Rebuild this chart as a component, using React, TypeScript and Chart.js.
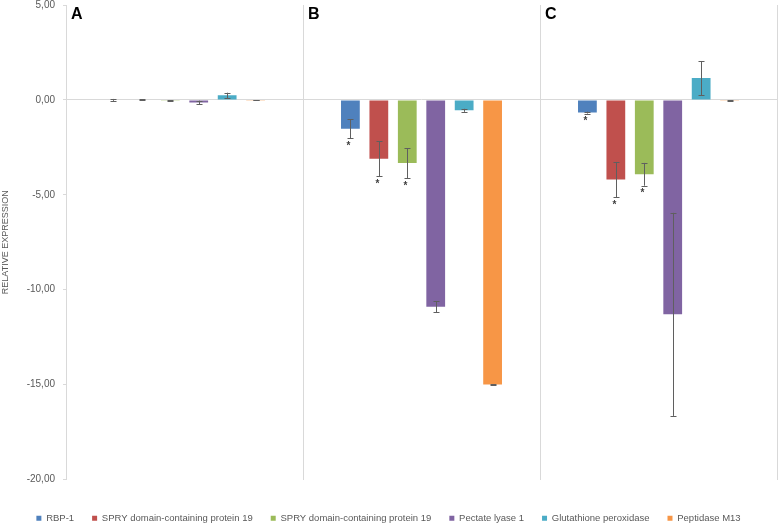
import React, { useEffect, useRef } from 'react';
import { Chart, registerables } from 'chart.js';

Chart.register(...registerables);

// ---- Data ----
const panels = ['A', 'B', 'C'];
const seriesNames = [
  'RBP-1',
  'SPRY domain-containing protein 19',
  'SPRY domain-containing protein 19',
  'Pectate lyase 1',
  'Glutathione peroxidase',
  'Peptidase M13',
];
const seriesColors = ['#4F81BD', '#C0504D', '#9BBB59', '#8064A2', '#4BACC6', '#F79646'];

const rbp1 = [0.0, -1.52, -0.67];
const rbp1Err = [0.05, 0.5, 0.05];
const rbp1Sig = [false, true, true];

const spry19a = [0.02, -3.1, -4.2];
const spry19aErr = [0.02, 0.92, 0.93];
const spry19aSig = [false, true, true];

const spry19b = [-0.04, -3.33, -3.92];
const spry19bErr = [0.02, 0.79, 0.6];
const spry19bSig = [false, true, true];

const pectate = [-0.14, -10.9, -11.3];
const pectateErr = [0.1, 0.3, 5.35];
const pectateSig = [false, false, false];

const glutathione = [0.24, -0.55, 1.15];
const glutathioneErr = [0.14, 0.08, 0.9];
const glutathioneSig = [false, false, false];

const peptidase = [-0.02, -15.0, -0.05];
const peptidaseErr = [0.01, 0.03, 0.02];
const peptidaseSig = [false, false, false];

const yTicks = [5, 0, -5, -10, -15, -20];

const seriesValues = [rbp1, spry19a, spry19b, pectate, glutathione, peptidase];
const seriesErrors = [rbp1Err, spry19aErr, spry19bErr, pectateErr, glutathioneErr, peptidaseErr];
const seriesSig = [rbp1Sig, spry19aSig, spry19bSig, pectateSig, glutathioneSig, peptidaseSig];

const FONT = "'Liberation Sans', Arial, sans-serif";

const errorBarPlugin = {
  id: 'errorBars',
  afterDatasetsDraw(chart: any) {
    const ctx = chart.ctx;
    const y = chart.scales.y;
    chart.data.datasets.forEach((ds: any, di: number) => {
      const meta = chart.getDatasetMeta(di);
      meta.data.forEach((bar: any, i: number) => {
        const v = ds.data[i];
        const e = ds.errors[i];
        const x = Math.round(bar.x) + 0.5;
        const yTop = y.getPixelForValue(v + e);
        const yBot = y.getPixelForValue(v - e);
        ctx.save();
        ctx.strokeStyle = '#5f5f5f';
        ctx.lineWidth = 1;
        ctx.beginPath();
        ctx.moveTo(x, yTop);
        ctx.lineTo(x, yBot);
        ctx.moveTo(x - 3, Math.round(yTop) + 0.5);
        ctx.lineTo(x + 3, Math.round(yTop) + 0.5);
        ctx.moveTo(x - 3, Math.round(yBot) + 0.5);
        ctx.lineTo(x + 3, Math.round(yBot) + 0.5);
        ctx.stroke();
        if (ds.sig[i]) {
          ctx.fillStyle = '#404040';
          ctx.font = `bold 10px ${FONT}`;
          ctx.textAlign = 'center';
          ctx.textBaseline = 'middle';
          ctx.fillText('*', x - 2, yBot + 8);
        }
        ctx.restore();
      });
    });
  },
};

const panelLabelPlugin = {
  id: 'panelLabels',
  afterDraw(chart: any) {
    const ctx = chart.ctx;
    const xs = chart.scales.x;
    const labels = chart.data.labels as string[];
    const w = (xs.right - xs.left) / labels.length;
    ctx.save();
    ctx.fillStyle = '#000000';
    ctx.font = `bold 16px ${FONT}`;
    ctx.textAlign = 'left';
    ctx.textBaseline = 'alphabetic';
    labels.forEach((lab, i) => {
      ctx.fillText(lab, xs.left + i * w + 5, 19);
    });
    ctx.restore();
  },
};

export default function App() {
  const ref = useRef<HTMLCanvasElement | null>(null);

  useEffect(() => {
    document.body.style.margin = '0';
    if (!ref.current) return;
    const chart = new Chart(ref.current, {
      type: 'bar',
      data: {
        labels: panels,
        datasets: seriesNames.map((name, i) => ({
          label: name,
          data: seriesValues[i],
          errors: seriesErrors[i],
          sig: seriesSig[i],
          backgroundColor: seriesColors[i],
          borderWidth: 0,
          categoryPercentage: 0.72,
          barPercentage: 0.66,
        })) as any,
      },
      options: {
        animation: false,
        responsive: false,
        maintainAspectRatio: false,
        layout: { padding: { top: 0, right: 1, left: 0, bottom: -9 } },
        plugins: {
          tooltip: { enabled: false },
          legend: {
            position: 'bottom',
            labels: {
              boxWidth: 5,
              boxHeight: 5,
              padding: 18,
              color: '#595959',
              font: { family: FONT, size: 9.5 },
            },
          },
        },
        scales: {
          x: {
            ticks: { display: false },
            grid: {
              offset: true,
              color: '#d9d9d9',
              drawTicks: false,
              lineWidth: 1,
            },
            border: { display: false },
            afterFit(scale: any) {
              scale.height = 16;
            },
          },
          y: {
            min: -20,
            max: 5,
            afterBuildTicks(scale: any) {
              scale.ticks = yTicks.map((v) => ({ value: v }));
            },
            ticks: {
              color: '#595959',
              font: { family: FONT, size: 10 },
              padding: 8,
              callback: (v: any) => Number(v).toFixed(2).replace('.', ','),
            },
            grid: {
              color: (c: any) => (c.tick && c.tick.value === 0 ? '#d9d9d9' : 'rgba(0,0,0,0)'),
              tickColor: '#d9d9d9',
              tickLength: 3,
              drawTicks: true,
            },
            border: { display: false },
            title: {
              display: true,
              text: 'RELATIVE EXPRESSION',
              color: '#595959',
              font: { family: FONT, size: 9 },
              padding: { top: 0, bottom: 0 },
            },
            afterFit(scale: any) {
              scale.width = 66;
              scale.paddingTop = 5;
              scale.paddingBottom = 0;
            },
          },
        },
      } as any,
      plugins: [errorBarPlugin, panelLabelPlugin],
    });
    return () => chart.destroy();
  }, []);

  return (
    <div style={{ width: 778, height: 524 }}>
      <canvas ref={ref} width={778} height={524} style={{ display: 'block' }} />
    </div>
  );
}
